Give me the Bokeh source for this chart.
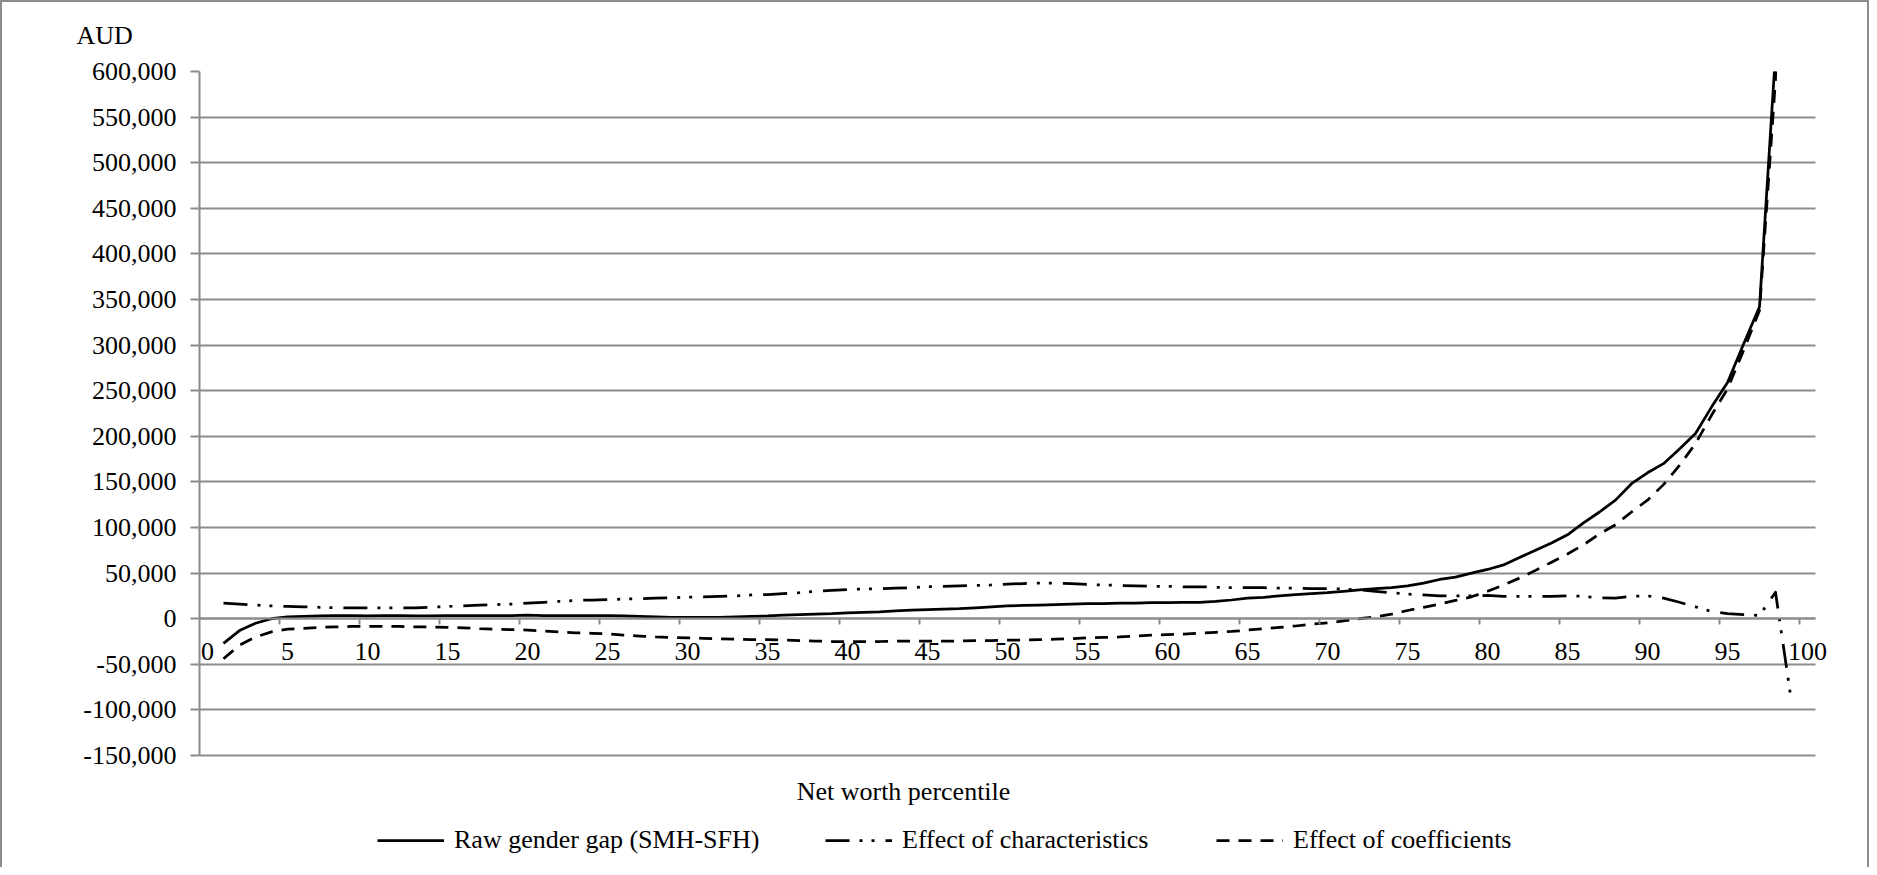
from bokeh.plotting import figure
from bokeh.models import (Range1d, FixedTicker, NumeralTickFormatter, Legend, LegendItem,
                          Title, Label, ColumnDataSource)
from bokeh.embed import file_html
from bokeh.resources import INLINE

# ---------------- data ----------------
percentile = list(range(1, 100))

raw_gap = [
    -27000, -13000, -5000, 0, 2000, 2500, 3000, 3500, 3500, 3000,
    3500, 3500, 3000, 3000, 3500, 3500, 3500, 3500, 3500, 4000,
    3500, 3500, 3500, 3500, 3500, 3000, 2500, 2000, 1500, 1500,
    1500, 1500, 2000, 2500, 3000, 4000, 4500, 5000, 5500, 6500,
    7000, 7500, 8500, 9500, 10000, 10500, 11000, 12000, 13000, 14000,
    14500, 15000, 15500, 16000, 16500, 16500, 17000, 17000, 17500, 17500,
    18000, 18000, 19000, 20500, 22500, 23500, 25000, 26500, 27500, 28500,
    30000, 31500, 33000, 34000, 36000, 39000, 43000, 45500, 50000, 54000,
    59000, 67000, 75000, 83000, 92000, 105000, 117000, 130000, 148000, 160000,
    170000, 186000, 203000, 232000, 259000, 301000, 342000, 620000, 1150000,
]

characteristics = [
    17000, 16000, 15000, 14000, 13500, 13000, 12500, 12000, 12000, 12000,
    12000, 12000, 12000, 12500, 13500, 14000, 15000, 15500, 16000, 17000,
    18000, 19000, 20000, 20500, 21000, 21500, 22000, 22500, 23000, 23500,
    24000, 24500, 25000, 26000, 26500, 27500, 28500, 30000, 31000, 32000,
    32500, 33000, 33500, 34000, 35000, 35500, 36000, 36500, 37000, 38000,
    38500, 39000, 39000, 38500, 37500, 37000, 36500, 36000, 35500, 35500,
    35000, 35000, 34500, 34000, 34000, 34000, 33500, 33500, 33000, 33000,
    32500, 31500, 30000, 28500, 27000, 26000, 25000, 25000, 25000, 25500,
    24500, 24500, 24500, 24500, 25000, 24500, 23000, 22500, 24500, 25000,
    22500, 18000, 13000, 8000, 5500, 4500, 3500, 29000, -91000,
]

coefficients = [
    -44000, -29000, -20000, -14500, -11500, -10500, -9500, -9000, -8500, -8500,
    -8500, -8500, -9000, -9000, -9500, -10000, -11000, -11500, -12000, -12500,
    -13500, -14500, -15500, -16000, -16500, -18000, -19000, -20000, -20500, -21000,
    -21500, -22000, -22500, -23000, -23000, -23500, -24000, -24500, -25000, -25000,
    -25000, -25000, -24500, -24500, -24500, -24500, -24500, -24000, -24000, -23500,
    -23500, -23000, -22500, -22000, -21000, -20500, -20000, -19000, -18000, -17500,
    -17000, -16000, -15000, -14000, -12500, -11000, -9500, -8000, -6000, -4500,
    -2500, 0, 2000, 5000, 9000, 12500, 16000, 20000, 24000, 30000,
    37000, 44500, 53000, 62000, 71000, 81000, 93000, 103000, 117000, 130000,
    147000, 168000, 192000, 223000, 252000, 294000, 338000, 591000, 1241000,
]

x_tick_labels = list(range(0, 101, 5))
y_ticks = list(range(-150000, 600001, 50000))

series_names = ["Raw gender gap (SMH-SFH)", "Effect of characteristics", "Effect of coefficients"]
y_title = "AUD"
x_title = "Net worth percentile"

# ---------------- layout ----------------
FONT = "Liberation Serif"
GRID = "#8c8c8c"
W, H = 1869, 867
B_LEFT, B_TOP, B_RIGHT, B_BOTTOM = 199, 71, 39, 5
FRAME_W = W - B_LEFT - B_RIGHT
FRAME_H = H - B_TOP - B_BOTTOM
PX_PER_CAT = 16.0          # width of one percentile category
PX_VALUE_AREA = 684.0      # height of the -150k..600k band
Y_MIN, Y_MAX = y_ticks[0], y_ticks[-1]
x_start = -0.5
x_end = x_start + FRAME_W / PX_PER_CAT
y_end = Y_MAX
y_start = Y_MAX - (Y_MAX - Y_MIN) * FRAME_H / PX_VALUE_AREA

p = figure(width=W, height=H,
           x_range=Range1d(x_start, x_end), y_range=Range1d(y_start, y_end),
           output_backend="svg", toolbar_location=None, title=None,
           min_border_left=B_LEFT, min_border_top=B_TOP, min_border_right=B_RIGHT,
           min_border_bottom=B_BOTTOM)

p.border_fill_color = None
p.background_fill_color = None
p.outline_line_color = None
p.styles = {"box-shadow": "inset 2px 2px 0 0 #8c8c8c, inset -2px 0 0 0 #8c8c8c"}

# grid
p.xgrid.grid_line_color = None
p.ygrid.ticker = FixedTicker(ticks=y_ticks)
p.ygrid.grid_line_color = GRID
p.ygrid.grid_line_width = 2
try:
    p.ygrid.cross_bounds = (-0.5, 100.5)
except Exception:
    pass

# y axis
p.yaxis.ticker = FixedTicker(ticks=y_ticks)
p.yaxis.bounds = (Y_MIN, Y_MAX)
p.yaxis.formatter = NumeralTickFormatter(format="0,0")
p.yaxis.axis_line_color = GRID
p.yaxis.axis_line_width = 2
p.yaxis.major_tick_line_color = GRID
p.yaxis.major_tick_line_width = 2
p.yaxis.major_tick_out = 9
p.yaxis.major_tick_in = 0
p.yaxis.minor_tick_line_color = None
p.yaxis.major_label_standoff = 14
p.yaxis.major_label_text_font = FONT
p.yaxis.major_label_text_font_size = "26px"
p.yaxis.major_label_text_color = "black"

# x axis drawn at y = 0
p.xaxis.fixed_location = 0
p.xaxis.bounds = (-0.5, 100.5)
p.xaxis.ticker = FixedTicker(ticks=x_tick_labels,
                             minor_ticks=[t - 0.5 for t in x_tick_labels[1:]])
p.xaxis.axis_line_color = GRID
p.xaxis.axis_line_width = 2
p.xaxis.major_tick_line_color = None
p.xaxis.major_tick_out = 0
p.xaxis.major_tick_in = 0
p.xaxis.minor_tick_line_color = GRID
p.xaxis.minor_tick_line_width = 2
p.xaxis.minor_tick_out = 6
p.xaxis.minor_tick_in = 0
p.xaxis.major_label_standoff = 18
p.xaxis.major_label_text_font = FONT
p.xaxis.major_label_text_font_size = "26px"
p.xaxis.major_label_text_color = "black"

src = ColumnDataSource(dict(x=percentile, raw=raw_gap, ch=characteristics, co=coefficients))

r_raw = p.line("x", "raw", source=src, line_color="black", line_width=2.75, line_join="round")
r_ch = p.line("x", "ch", source=src, line_color="black", line_width=2.75, line_join="round",
              line_dash="24 10 3 9 3 11")
r_co = p.line("x", "co", source=src, line_color="black", line_width=2.75, line_join="round",
              line_dash="13 9")

# ----- above: "AUD" (second empty line lifts it away from the plot)
p.add_layout(Title(text=y_title + "\n", align="left", offset=-123, vertical_align="bottom",
                   standoff=-14, text_font=FONT, text_font_size="26px",
                   text_font_style="normal", text_color="black"), "above")

# ----- x title and legends, inside the lower part of the frame (screen units from frame bottom-left)
p.add_layout(Label(x=704, y=FRAME_H - (799 - 79), x_units="screen", y_units="screen",
                   text=x_title, text_align="center", text_baseline="middle",
                   text_font=FONT, text_font_size="26px", text_color="black"))

legend_x = [178, 626, 1017]
for name, r, lx in zip(series_names, [r_raw, r_ch, r_co], legend_x):
    lg = Legend(items=[LegendItem(label=name, renderers=[r])], location=(lx, 7),
                orientation="horizontal", glyph_width=67, glyph_height=20,
                label_standoff=10, padding=0, margin=0, spacing=0,
                border_line_color=None, background_fill_color=None,
                label_text_font=FONT, label_text_font_size="26px", label_text_color="black")
    p.add_layout(lg, "center")

open("out.html", "w").write(file_html(p, INLINE))
